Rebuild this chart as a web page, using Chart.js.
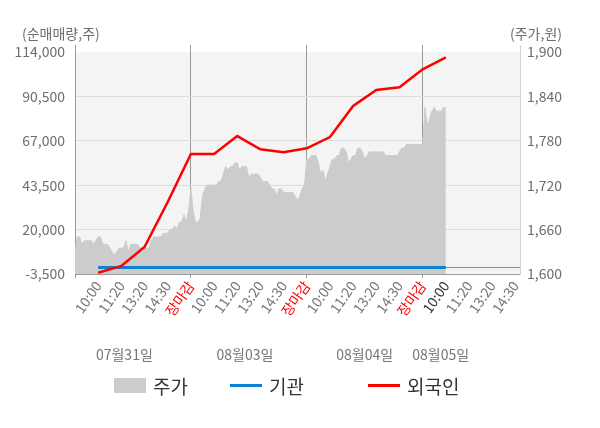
<!DOCTYPE html>
<html>
<head>
<meta charset="utf-8">
<script src="https://cdn.jsdelivr.net/npm/chart.js@4"></script>
<style>
  html, body { margin: 0; padding: 0; background: #fff; }
  #wrap { position: relative; width: 600px; height: 428px; }
  #legend {
    position: absolute; left: 114px; top: 374px; height: 22px;
    display: flex; align-items: center;
    font-family: 'Noto Sans CJK KR', 'Noto Sans', sans-serif;
    font-size: 19px; color: #333;
  }
  #legend .item { display: flex; align-items: center; }
  #legend .item:nth-child(1) { width: 116px; }
  #legend .item:nth-child(2) { width: 138px; }
  #legend .sw { display: inline-block; width: 32px; margin-right: 7px; }
</style>
</head>
<body>
<div id="wrap">
  <canvas id="myChart"></canvas>
  <div id="legend"></div>
</div>
<script>
// tick labels along the bottom (one per slot, 4 sessions)
var timeLabels = [
  '10:00', '11:20', '13:20', '14:30', '장마감',
  '10:00', '11:20', '13:20', '14:30', '장마감',
  '10:00', '11:20', '13:20', '14:30', '장마감',
  '10:00', '11:20', '13:20', '14:30'
];
var dateLabels = ['07월31일', '08월03일', '08월04일', '08월05일'];
var netTicks = [-3500, 0, 20000, 43500, 67000, 90500, 114000];
var priceTicks = [1600, 1660, 1720, 1780, 1840, 1900];

// cumulative net buying (shares), one value per time label
var foreignNet = [-2800, 800, 10800, 34600, 60000, 60000, 69500, 62500,
  61000, 63000, 69000, 85400, 93900, 95300, 104800, 111200];
var institutionNet = [0, 0, 0, 0, 0, 0, 0, 0, 0, 0, 0, 0, 0, 0, 0, 0];

// share price (won), one sample every 0.1 slot
var priceStep = 0.1;
var prices = [
  1630, 1650, 1650, 1640, 1645, 1645, 1645, 1645, 1640, 1645,
  1650, 1650, 1640, 1640, 1640, 1635, 1630, 1625, 1630, 1635,
  1635, 1635, 1645, 1630, 1640, 1640, 1640, 1640, 1635, 1635,
  1635, 1635, 1635, 1645, 1650, 1650, 1650, 1650, 1655, 1655,
  1655, 1660, 1660, 1665, 1660, 1670, 1670, 1680, 1670, 1685,
  1715, 1685, 1670, 1670, 1675, 1705, 1715, 1720, 1720, 1720,
  1720, 1720, 1725, 1725, 1735, 1745, 1740, 1745, 1745, 1750,
  1750, 1740, 1745, 1745, 1745, 1730, 1735, 1735, 1735, 1735,
  1730, 1725, 1725, 1725, 1720, 1715, 1715, 1705, 1715, 1715,
  1710, 1710, 1710, 1710, 1710, 1705, 1700, 1705, 1715, 1720,
  1755, 1755, 1760, 1760, 1760, 1750, 1735, 1740, 1725, 1735,
  1745, 1755, 1755, 1760, 1760, 1770, 1770, 1765, 1750, 1755,
  1760, 1760, 1770, 1770, 1765, 1755, 1760, 1765, 1765, 1765,
  1765, 1765, 1765, 1765, 1760, 1760, 1760, 1760, 1760, 1760,
  1765, 1770, 1770, 1775, 1775, 1775, 1775, 1775, 1775, 1775,
  1775, 1825, 1800, 1810, 1820, 1825, 1820, 1820, 1820, 1825, 1825
];

// where the date captions sit on the slot axis
var datePos = [2.13, 7.33, 12.5, 15.78];

Chart.defaults.font.family = "'Noto Sans CJK KR', 'Noto Sans', sans-serif";

var xMax = 19.2;
var gap = 7 / 222; // white strip above the shaded plot
var netMin = netTicks[0], netTop = netTicks[netTicks.length - 1];
var priceMin = priceTicks[0], priceTop = priceTicks[priceTicks.length - 1];

var plotBg = {
  id: 'plotBg',
  beforeDraw: function (chart) {
    var a = chart.chartArea;
    var top = chart.scales.y.getPixelForValue(netTop);
    var ctx = chart.ctx;
    ctx.save();
    ctx.fillStyle = '#f4f4f4';
    ctx.fillRect(a.left, top, a.right - a.left, a.bottom - top);
    ctx.restore();
  }
};

var axisTitles = {
  id: 'axisTitles',
  afterDraw: function (chart) {
    var ctx = chart.ctx;
    ctx.save();
    ctx.font = "14px 'Noto Sans CJK KR'";
    ctx.fillStyle = '#6e6e6e';
    ctx.textBaseline = 'middle';
    ctx.textAlign = 'left';
    ctx.fillText('(순매매량,주)', 22, 34);
    ctx.textAlign = 'right';
    ctx.fillText('(주가,원)', 562, 34);
    ctx.restore();
  }
};

function buildLegend(chart) {
  var box = document.getElementById('legend');
  box.innerHTML = '';
  chart.data.datasets.forEach(function (ds) {
    var item = document.createElement('div');
    item.className = 'item';
    var sw = document.createElement('span');
    sw.className = 'sw';
    if (ds.pointStyle === 'rect') {
      sw.style.height = '15px';
      sw.style.background = ds.backgroundColor;
    } else {
      sw.style.height = '3px';
      sw.style.background = ds.borderColor;
    }
    var txt = document.createElement('span');
    txt.textContent = ds.label;
    item.appendChild(sw);
    item.appendChild(txt);
    box.appendChild(item);
  });
}

var ctx = document.getElementById('myChart');
var chartMix = new Chart(ctx, {
  type: 'line',
  data: {
    datasets: [{
      label: '주가',
      data: prices.map(function (p, k) { return { x: k * priceStep, y: p }; }),
      xAxisID: 'x',
      yAxisID: 'y2',
      backgroundColor: '#cccccc',
      borderColor: '#cccccc',
      borderWidth: 1,
      fill: 'start',
      pointRadius: 0,
      pointStyle: 'rect',
      order: 3
    }, {
      label: '기관',
      data: institutionNet.map(function (v, i) { return { x: i + 1, y: v }; }),
      xAxisID: 'x',
      yAxisID: 'y',
      borderColor: '#0a82d2',
      backgroundColor: '#0a82d2',
      borderWidth: 3,
      pointRadius: 0,
      pointStyle: 'line',
      order: 2
    }, {
      label: '외국인',
      data: foreignNet.map(function (v, i) { return { x: i + 1, y: v }; }),
      xAxisID: 'x',
      yAxisID: 'y',
      borderColor: '#ff0000',
      backgroundColor: '#ff0000',
      borderWidth: 2.5,
      pointRadius: 0,
      pointStyle: 'line',
      order: 1
    }]
  },
  options: {
    responsive: true,
    maintainAspectRatio: false,
    animation: false,
    layout: { padding: { top: 45, bottom: 54, left: 0, right: 0 } },
    scales: {
      x: {
        type: 'linear',
        position: 'bottom',
        min: 0,
        max: xMax,
        afterBuildTicks: function (scale) {
          scale.ticks = [{ value: 0 }].concat(timeLabels.map(function (l, i) { return { value: i + 1 }; }));
        },
        afterFit: function (scale) { scale.height = 60; },
        grid: {
          color: function (c) {
            if (!c.tick) return 'rgba(0,0,0,0)';
            var v = c.tick.value;
            return (v === 0 || timeLabels[v - 1] === '장마감') ? '#9a9a9a' : 'rgba(0,0,0,0)';
          },
          tickLength: 4
        },
        border: { color: '#9a9a9a' },
        ticks: {
          autoSkip: false,
          minRotation: 55,
          maxRotation: 55,
          padding: 0,
          font: { size: 14 },
          color: function (c) {
            var v = c.tick ? c.tick.value : 0;
            if (timeLabels[v - 1] === '장마감') return '#ff0000';
            if (v === 16) return '#333333';
            return '#767676';
          },
          callback: function (v) { return timeLabels[v - 1] || ''; }
        }
      },
      x2: {
        type: 'linear',
        position: 'bottom',
        min: 0,
        max: xMax,
        afterBuildTicks: function (scale) {
          scale.ticks = datePos.map(function (p) { return { value: p }; });
        },
        afterFit: function (scale) { scale.height = 40; },
        grid: { display: false },
        border: { display: false },
        ticks: {
          autoSkip: false,
          maxRotation: 0,
          padding: 4,
          font: { size: 14 },
          color: '#767676',
          callback: function (v, i) { return dateLabels[i]; }
        }
      },
      y: {
        type: 'linear',
        position: 'left',
        min: netMin,
        max: netTop + (netTop - netMin) * gap,
        afterBuildTicks: function (scale) {
          scale.ticks = netTicks.map(function (v) { return { value: v }; });
        },
        afterFit: function (scale) { scale.width = 75; },
        grid: {
          color: function (c) {
            if (!c.tick) return 'rgba(0,0,0,0)';
            var v = c.tick.value;
            if (v === 0) return '#8c8c8c';
            if (v === netMin || v === netTop) return 'rgba(0,0,0,0)';
            return '#dcdcdc';
          },
          drawTicks: false
        },
        border: { color: '#9a9a9a' },
        ticks: {
          padding: 10,
          font: { size: 14 },
          color: '#6e6e6e',
          callback: function (v) { return v === 0 ? '' : v.toLocaleString('en-US'); }
        }
      },
      y2: {
        type: 'linear',
        position: 'right',
        min: priceMin,
        max: priceTop + (priceTop - priceMin) * gap,
        afterBuildTicks: function (scale) {
          scale.ticks = priceTicks.map(function (v) { return { value: v }; });
        },
        afterFit: function (scale) { scale.width = 80; },
        grid: { drawOnChartArea: false, drawTicks: false },
        border: { color: '#d4d4d4' },
        ticks: {
          padding: 7,
          font: { size: 14 },
          color: '#6e6e6e',
          callback: function (v) { return v.toLocaleString('en-US'); }
        }
      }
    },
    plugins: {
      tooltip: { enabled: false },
      legend: { display: false }
    }
  },
  plugins: [plotBg, axisTitles]
});
buildLegend(chartMix);
</script>
</body>
</html>
